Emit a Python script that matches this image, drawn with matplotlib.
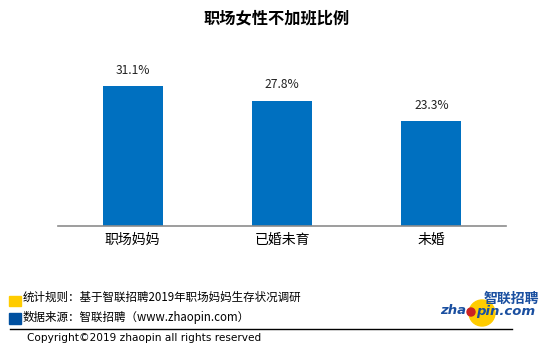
import matplotlib.pyplot as plt
from matplotlib.patches import Rectangle, Circle

plt.rcParams['font.family'] = ['Noto Sans CJK SC', 'DejaVu Sans']

categories = ['职场妈妈', '已婚未育', '未婚']
values = [31.1, 27.8, 23.3]
title = '职场女性不加班比例'
note1 = '统计规则：基于智联招聘2019年职场妈妈生存状况调研'
note2 = '数据来源：智联招聘（www.zhaopin.com）'
copyright_text = 'Copyright©2019 zhaopin all rights reserved'

W, H = 556, 356
fig = plt.figure(figsize=(W / 100, H / 100), dpi=100)

# main bar chart, placed in pixel units
ax = fig.add_axes([58 / W, (H - 225.7) / H, 448 / W, 175.7 / H])
x = range(len(categories))
ax.bar(x, values, width=0.4, color='#0070C0')
ax.set_xlim(-0.5, 2.5)
ax.set_ylim(0, 175.7 / 4.49)
for i, v in zip(x, values):
    ax.annotate(f'{v}%', (i, v), xytext=(0, 11.5), textcoords='offset points',
                ha='center', va='center', fontsize=8.7, color='#222222')
ax.set_xticks(list(x))
ax.set_xticklabels(categories, fontsize=10)
ax.tick_params(axis='x', length=0, pad=5)
ax.set_yticks([])
for s in ['top', 'left', 'right']:
    ax.spines[s].set_visible(False)
ax.spines['bottom'].set_color('#8c8c8c')
ax.spines['bottom'].set_linewidth(1.2)

# overlay in pixel coordinates for title, footer and logo
ov = fig.add_axes([0, 0, 1, 1])
ov.set_xlim(0, W)
ov.set_ylim(H, 0)
ov.axis('off')

ov.text(277, 18, title, ha='center', va='center', fontsize=11.7, fontweight='bold')

ov.add_patch(Rectangle((9, 296), 12, 10, color='#FFCC00'))
ov.add_patch(Rectangle((9, 313), 12, 11, color='#0050A0'))
ov.text(23, 297, note1, ha='left', va='center', fontsize=8.3)
ov.text(23, 317, note2, ha='left', va='center', fontsize=8.3)
ov.plot([10, 512], [328.5, 328.5], color='black', lw=1)
ov.text(27, 338, copyright_text, ha='left', va='center', fontsize=7.6, family='DejaVu Sans')

# logo
ov.add_patch(Circle((482, 313), 13, color='#FFCC00'))
ov.add_patch(Circle((471, 312), 4, color='#CC2222'))
ov.text(511, 299, '智联招聘', ha='center', va='center', fontsize=10,
        fontweight='bold', style='italic', color='#1a4fa0')
ov.text(466, 311, 'zha', ha='right', va='center', fontsize=9.5,
        fontweight='bold', style='italic', color='#1a4fa0', family='DejaVu Sans')
ov.text(476, 311, 'pin.com', ha='left', va='center', fontsize=9.5,
        fontweight='bold', style='italic', color='#1a4fa0', family='DejaVu Sans')

fig.savefig('out.png', dpi=100)
